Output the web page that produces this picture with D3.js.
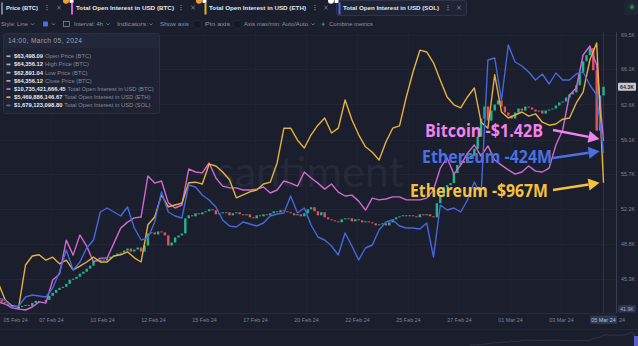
<!DOCTYPE html>
<html><head><meta charset="utf-8">
<script src="https://cdn.jsdelivr.net/npm/d3@7/dist/d3.min.js"></script>
<style>
html,body{margin:0;padding:0;background:#1b1e2c;overflow:hidden;}
svg{display:block;}
text{font-family:"Liberation Sans",Arial,sans-serif;}
</style></head><body>
<svg id="chart" width="638" height="346"></svg>
<script>
// ---------------- DATA ----------------
// BTC 4h closes (thousand USD), first candle Feb 5 02:00 UTC
const priceStart = "2024-02-05T02:00:00Z";
const priceOpen0 = 43.2;
const priceCloses = [
43.0,42.9,42.7,42.4,42.3,42.5,
42.6,42.7,42.6,42.9,43.1,43.0,
43.0,43.2,43.6,43.9,44.2,44.4,
44.5,44.8,45.2,45.3,45.5,45.8,
46.0,46.3,46.6,47.1,47.0,47.2,
47.1,47.3,47.5,47.6,47.8,47.9,
48.1,48.3,48.0,48.2,48.4,48.0,
48.6,49.8,49.9,49.7,50.0,49.9,
49.6,48.6,48.9,49.4,49.6,49.8,
51.3,51.6,51.5,51.8,51.7,51.9,
52.0,52.2,52.1,51.7,51.8,51.9,
51.9,51.6,51.8,51.9,51.7,51.6,
51.7,51.4,51.3,51.6,51.5,51.7,
51.6,51.8,52.0,51.9,52.1,52.0,
51.9,51.8,51.6,51.7,51.5,51.8,
52.2,52.4,52.0,51.6,51.9,51.4,
51.2,51.1,51.0,50.9,51.2,51.3,
51.3,51.0,51.2,51.1,50.9,51.0,
50.9,50.8,50.6,50.7,50.8,50.6,
50.9,51.2,51.4,51.5,51.6,51.5,
51.6,51.5,51.4,51.7,51.6,51.7,
51.5,51.4,52.8,53.5,54.4,54.6,
54.8,55.8,56.6,57.0,56.8,57.2,
57.5,58.2,59.4,61.2,62.4,61.0,
62.0,62.6,63.0,62.4,61.8,61.5,
61.2,61.8,62.2,62.0,62.4,62.3,
62.1,61.9,62.0,61.7,62.0,62.1,
62.2,62.5,62.8,62.9,63.3,63.6,
63.8,64.5,65.8,66.9,67.5,68.2,
66.0,60.0,63.5,64.36];

// Open interest, 8h points (billion USD), first point Feb 4 22:00 UTC
const oiStart = "2024-02-04T22:00:00Z";
const btcOI = [
5.37,5.30,5.17,5.13,5.10,5.20,5.37,5.33,6.10,6.30,
7.43,6.93,7.60,7.23,6.70,6.83,6.83,7.33,7.83,8.03,
8.17,8.20,9.57,9.33,9.40,8.67,8.50,8.60,9.80,9.70,
9.67,10.00,9.50,9.23,9.17,9.17,9.10,9.10,9.13,9.20,
9.00,9.10,9.40,9.33,9.23,9.70,9.50,9.33,9.13,9.30,
9.03,8.90,8.93,8.73,8.43,8.83,8.77,8.80,8.87,8.87,
8.77,8.77,8.77,8.83,9.10,9.83,10.17,9.63,9.93,10.33,
10.60,10.23,10.57,10.10,9.93,9.77,9.63,9.70,9.90,9.73,
9.70,9.83,10.60,11.10,12.27,12.50,13.60,13.90,13.27,10.735];
const ethOI = [
3.80,3.52,3.42,3.40,4.10,4.25,4.27,4.18,4.23,4.12,
4.18,4.02,4.08,4.15,4.23,4.15,4.15,4.25,4.27,4.32,
4.22,4.15,4.77,4.90,5.27,5.07,5.10,5.13,5.47,5.48,
5.45,5.78,5.75,5.65,5.52,5.22,5.27,5.32,5.35,5.45,
5.48,5.80,6.38,6.38,6.18,6.05,6.27,6.43,6.55,6.30,
6.38,6.85,6.52,6.27,6.07,5.98,5.85,6.15,6.38,6.42,
6.90,7.32,7.68,7.65,7.47,7.18,6.90,6.77,6.72,6.90,
7.05,6.48,6.38,7.27,6.65,6.55,6.60,6.65,6.58,6.62,
6.48,6.43,6.45,6.53,6.55,6.80,6.98,7.52,7.80,5.47];
const solOI = [
0.955,0.945,0.91,0.915,0.96,0.97,0.965,0.96,1.005,1.085,
1.195,1.095,1.135,1.205,1.245,1.385,1.405,1.385,1.365,1.41,
1.305,1.245,1.255,1.335,1.485,1.385,1.365,1.355,1.52,1.51,
1.47,1.445,1.41,1.345,1.315,1.31,1.335,1.325,1.315,1.33,
1.365,1.375,1.38,1.465,1.38,1.405,1.32,1.26,1.245,1.215,
1.17,1.28,1.215,1.145,1.205,1.22,1.295,1.335,1.345,1.315,
1.305,1.305,1.30,1.33,1.16,1.42,1.395,1.405,1.385,1.445,
1.535,1.47,2.145,2.155,1.945,2.22,2.135,2.115,2.085,2.045,
2.075,2.025,2.08,2.045,2.045,2.075,2.085,2.02,1.97,1.679];

const priceTicks = [41.9,45.3,48.8,52.2,55.7,59.1,62.6,66.1,69.5];
const priceTickLabels = ["41.9K","45.3K","48.8K","52.2K","55.7K","59.1K","62.6K","66.1K","69.5K"];
const lastPriceLabel = "64.3K";
const dateTickTimes = ["2024-02-05T00:00:00Z","2024-02-07T12:00:00Z","2024-02-10T00:00:00Z","2024-02-12T12:00:00Z",
  "2024-02-15T00:00:00Z","2024-02-17T12:00:00Z","2024-02-20T00:00:00Z","2024-02-22T12:00:00Z",
  "2024-02-25T00:00:00Z","2024-02-27T12:00:00Z","2024-03-01T00:00:00Z","2024-03-03T12:00:00Z"];
const dateTickLabels = ["05 Feb 24","07 Feb 24","10 Feb 24","12 Feb 24","15 Feb 24","17 Feb 24","20 Feb 24",
  "22 Feb 24","25 Feb 24","27 Feb 24","01 Mar 24","03 Mar 24"];
const crosshairLabel = "05 Mar 24";

const tooltipTitle = "14:00, March 05, 2024";
const tooltipValues = ["$63,498.09","$64,356.12","$62,891.04","$64,356.12","$10,735,421,666.45","$5,469,886,146.67","$1,679,123,098.80"];
const tooltipLabels = ["Open Price (BTC)","High Price (BTC)","Low Price (BTC)","Close Price (BTC)",
  "Total Open Interest in USD (BTC)","Total Open Interest in USD (ETH)","Total Open Interest in USD (SOL)"];

const tabLabels = ["Price (BTC)","Total Open Interest in USD (BTC)","Total Open Interest in USD (ETH)","Total Open Interest in USD (SOL)"];
const annotations = ["Bitcoin -$1.42B","Ethereum -424M","Ethereum -$967M"];

// ---------------- STYLE ----------------
const BG="#1b1e2c", PINK_L="#d06ad0", YEL_L="#e6b13c", BLUE_L="#4568dc";
const PINK_T="#f183ee", YEL_T="#f4c23f", BLUE_T="#4a70e4";
const GREEN="#22b58e", RED="#e4525b";
const AXT="#7d8397", UIT="#8d93a7";

const svg = d3.select("#chart");
svg.append("rect").attr("width",638).attr("height",346).attr("fill",BG);

const H4=4*3600e3, H8=8*3600e3;
const priceData = priceCloses.map((c,i)=>({t:new Date(Date.parse(priceStart)+i*H4), o:i===0?priceOpen0:priceCloses[i-1], c}));
const oiTimes = btcOI.map((_,i)=>new Date(Date.parse(oiStart)+i*H8));

const x = d3.scaleUtc().domain([new Date("2024-02-04T00:00:00Z"), new Date("2024-03-07T00:00:00Z")]).range([-20.4,632.4]);
const yPrice = d3.scaleLinear().domain([41.9,69.5]).range([313,35]);
const yBTC = d3.scaleLinear().domain([5,14.267]).range([313,35]);
const yETH = d3.scaleLinear().domain([3.3,7.933]).range([313,35]);
const ySOL = d3.scaleLinear().domain([0.88,2.27]).range([313,35]);

const defs = svg.append("defs");
defs.append("clipPath").attr("id","plot").append("rect").attr("x",0).attr("y",32).attr("width",616).attr("height",281);

// grid
const grid = svg.append("g");
grid.selectAll("line.h").data(priceTicks.slice(1)).join("line")
  .attr("x1",0).attr("x2",616).attr("y1",d=>Math.round(yPrice(d))+0.5).attr("y2",d=>Math.round(yPrice(d))+0.5)
  .attr("stroke","#212534");
grid.selectAll("line.v").data(dateTickTimes.slice(1)).join("line")
  .attr("y1",32).attr("y2",313).attr("x1",d=>Math.round(x(new Date(d)))+0.5).attr("x2",d=>Math.round(x(new Date(d)))+0.5)
  .attr("stroke","#1f2231");

// watermark (font size fitted to a 188px width)
const wm = svg.append("text").attr("x",216).attr("y",187).attr("font-size",50).attr("fill","#252939")
  .style("font-family","Lato, 'Open Sans', sans-serif").text("santiment");
const wmW = wm.node().getComputedTextLength();
wm.attr("font-size", 50*188/wmW);

const plot = svg.append("g").attr("clip-path","url(#plot)");

// crosshair
const lastT = priceData[priceData.length-1].t;
plot.append("line").attr("x1",x(lastT)).attr("x2",x(lastT)).attr("y1",32).attr("y2",313).attr("stroke","#2f3345").attr("stroke-width",1);

// candles
plot.selectAll("rect.candle").data(priceData).join("rect").attr("class","candle")
  .attr("x",d=>x(d.t)-1.2).attr("width",2.4)
  .attr("y",d=>yPrice(Math.max(d.o,d.c)))
  .attr("height",d=>Math.max(0.9,Math.abs(yPrice(d.o)-yPrice(d.c))))
  .attr("fill",d=>d.c>=d.o?GREEN:RED);

const mkLine = (ys)=>d3.line().x((d,i)=>x(oiTimes[i])).y(d=>ys(d));
plot.append("path").attr("d",mkLine(yBTC)(btcOI)).attr("fill","none").attr("stroke",PINK_L).attr("stroke-width",1.4).attr("stroke-linejoin","round");
plot.append("path").attr("d",mkLine(yETH)(ethOI)).attr("fill","none").attr("stroke",YEL_L).attr("stroke-width",1.4).attr("stroke-linejoin","round");
plot.append("path").attr("d",mkLine(ySOL)(solOI)).attr("fill","none").attr("stroke",BLUE_L).attr("stroke-width",1.4).attr("stroke-linejoin","round");

// axes
svg.append("line").attr("x1",616.5).attr("x2",616.5).attr("y1",32).attr("y2",313).attr("stroke","#3a3f52");
svg.append("line").attr("x1",0).attr("x2",616).attr("y1",313.5).attr("y2",313.5).attr("stroke","#282c3d");
svg.append("line").attr("x1",0).attr("x2",638).attr("y1",329.5).attr("y2",329.5).attr("stroke","#23273a");

const yAxis = svg.append("g").attr("transform","translate(616,0)")
  .call(d3.axisRight(yPrice).tickValues(priceTicks.slice(1)).tickSize(0).tickPadding(5)
    .tickFormat(d=>priceTickLabels[priceTicks.indexOf(d)]));
yAxis.select(".domain").remove();
yAxis.selectAll("text").attr("fill",AXT).attr("font-size",5.4).style("font-family","Liberation Sans, Arial, sans-serif");

// min label box
const yMinG = svg.append("g");
yMinG.append("rect").attr("x",618).attr("y",yPrice(priceTicks[0])-8).attr("width",18).attr("height",7.5).attr("fill","#2c3550").attr("rx",1);
yMinG.append("text").attr("x",627).attr("y",yPrice(priceTicks[0])-2.3).attr("text-anchor","middle").attr("font-size",5.2).attr("fill","#aab1c6").text(priceTickLabels[0]);

// last price box
const lastClose = priceCloses[priceCloses.length-1];
svg.append("rect").attr("x",618).attr("y",yPrice(lastClose)-4).attr("width",18).attr("height",8).attr("fill","#c5c8d2").attr("rx",1);
svg.append("text").attr("x",627).attr("y",yPrice(lastClose)+1.9).attr("text-anchor","middle").attr("font-size",5.2).attr("fill","#1b1e2c").attr("font-weight","bold").text(lastPriceLabel);

const xAxis = svg.append("g").attr("transform","translate(0,313)")
  .call(d3.axisBottom(x).tickValues(dateTickTimes.map(d=>new Date(d))).tickSize(0).tickPadding(5)
    .tickFormat((d,i)=>dateTickLabels[i]));
xAxis.select(".domain").remove();
xAxis.selectAll("text").attr("fill",AXT).attr("font-size",5.4).style("font-family","Liberation Sans, Arial, sans-serif");
xAxis.selectAll("text").filter((d,i)=>i===0).attr("text-anchor","start").attr("x",3);

// crosshair date box
svg.append("text").attr("x",619).attr("y",322).attr("font-size",5.4).attr("fill",AXT).text("24");
svg.append("rect").attr("x",x(lastT)-13.5).attr("y",315.5).attr("width",27).attr("height",8.5).attr("fill","#2d3753").attr("rx",1);
svg.append("text").attr("x",x(lastT)).attr("y",321.8).attr("text-anchor","middle").attr("font-size",5.4).attr("fill","#b9c0d4").text(crosshairLabel);

// navigator
const xn = d3.scaleUtc().domain(d3.extent(priceData,d=>d.t)).range([470,636]);
const yn = d3.scaleLinear().domain(d3.extent(priceCloses)).range([345,332]);
svg.append("path").attr("d",d3.line().x(d=>xn(d.t)).y(d=>yn(d.c))(priceData)).attr("fill","none").attr("stroke","#363b50").attr("stroke-width",0.8);
svg.append("rect").attr("x",634).attr("y",336).attr("width",4).attr("height",10).attr("fill","#5a5fc4");

// annotations with arrows
function arrow(x1,y1,x2,y2,color){
  const a=Math.atan2(y2-y1,x2-x1), L=11, w=6;
  const bx=x2-L*Math.cos(a), by=y2-L*Math.sin(a);
  svg.append("line").attr("x1",x1).attr("y1",y1).attr("x2",bx).attr("y2",by).attr("stroke",color).attr("stroke-width",2.4);
  svg.append("path").attr("d",`M${x2},${y2}L${bx-w*Math.sin(a)},${by+w*Math.cos(a)}L${bx+w*Math.sin(a)},${by-w*Math.cos(a)}Z`).attr("fill",color);
}
const tipX = x(oiTimes[oiTimes.length-1])-4;
const ann = [
  {t:annotations[0], c:PINK_T, tx:425, ty:137, len:118, sx:553, sy:130, ey:yBTC(btcOI[btcOI.length-1])-2},
  {t:annotations[1], c:BLUE_T, tx:422, ty:163, len:130, sx:553, sy:158, ey:ySOL(solOI[solOI.length-1])-2},
  {t:annotations[2], c:YEL_T, tx:410, ty:197, len:138, sx:553, sy:190, ey:yETH(ethOI[ethOI.length-1])}
];
ann.forEach(a=>{
  svg.append("text").attr("x",a.tx).attr("y",a.ty).attr("font-size",17).attr("font-weight",700).attr("fill",a.c)
    .attr("textLength",a.len).attr("lengthAdjust","spacingAndGlyphs").style("font-family","'Open Sans', 'Liberation Sans', sans-serif").text(a.t);
  arrow(a.sx,a.sy,tipX,a.ey,a.c);
});

// tooltip
const tt = svg.append("g");
tt.append("rect").attr("x",3.5).attr("y",33.5).attr("width",156).attr("height",80).attr("fill","#1e2232").attr("stroke","#2a2f42").attr("rx",2);
tt.append("rect").attr("x",4).attr("y",34).attr("width",155).attr("height",14).attr("fill","#23273a");
tt.append("text").attr("x",8).attr("y",43.3).attr("font-size",6.6).attr("fill","#9aa0b4").attr("textLength",74).text(tooltipTitle);
const ttColors = ["#a9aec0","#a9aec0","#a9aec0","#a9aec0",PINK_L,YEL_L,BLUE_L];
tooltipValues.forEach((v,i)=>{
  const cy = 56.2 + i*8.2;
  tt.append("rect").attr("x",6.5).attr("y",cy-0.8).attr("width",4).attr("height",1.7).attr("fill",ttColors[i]);
  const vt = tt.append("text").attr("x",14).attr("y",cy+2).attr("font-size",5.8).attr("font-weight","bold").attr("fill","#e6e8ef").text(v);
  const w = vt.node().getComputedTextLength();
  tt.append("text").attr("x",14+w+2).attr("y",cy+2).attr("font-size",5.8).attr("fill","#858ba0").text(tooltipLabels[i]);
});

// top tabs
const topG = svg.append("g");
function dots(cx){ [5.3,7.5,9.7].forEach(cy=>topG.append("circle").attr("cx",cx).attr("cy",cy).attr("r",0.6).attr("fill",UIT)); }
function cross(cx){ topG.append("path").attr("d",`M${cx-1.6},${6}L${cx+1.6},${9.2}M${cx+1.6},${6}L${cx-1.6},${9.2}`).attr("stroke",UIT).attr("stroke-width",0.8); }
function chev(cx,cy){ topG.append("path").attr("d",`M${cx-1.5},${cy-0.8}L${cx},${cy+0.8}L${cx+1.5},${cy-0.8}`).attr("fill","none").attr("stroke",UIT).attr("stroke-width",0.7); }
topG.append("rect").attr("x",336.5).attr("y",0.5).attr("width",130).attr("height",15).attr("rx",2).attr("fill","#1f2334").attr("stroke","#2e3447");
topG.append("rect").attr("x",624).attr("y",0).attr("width",14).attr("height",15).attr("fill","#202434").attr("rx",2);
topG.append("circle").attr("cx",632).attr("cy",7).attr("r",3.6).attr("fill","#1f3b30");
topG.append("circle").attr("cx",632).attr("cy",7).attr("r",1.8).attr("fill","#2f8b58");
const tabs = [
  {bar:"#777d91", bx:1, tx:6, tl:32, d:47, c:59, icon:null},
  {bar:"#d65fd6", bx:71, tx:76, tl:98, d:181, c:193, icon:{c:"#f0a030", cx:66}},
  {bar:"#e5b030", bx:204.5, tx:209, tl:97, d:315, c:326, icon:{c:"#f0a030", cx:199}},
  {bar:"#4a6ee0", bx:338.5, tx:343, tl:96, d:448, c:459, icon:{c:"#ffffff", cx:331}}
];
tabs.forEach((t,i)=>{
  if(t.icon){
    topG.append("circle").attr("cx",t.icon.cx).attr("cy",0.8).attr("r",3).attr("fill",t.icon.c);
    topG.append("rect").attr("x",t.icon.cx+3.5).attr("y",-1).attr("width",4).attr("height",4).attr("fill","#ffffff").attr("rx",0.8);
  }
  topG.append("rect").attr("x",t.bx).attr("y",2.5).attr("width",2).attr("height",12).attr("fill",t.bar);
  topG.append("text").attr("x",t.tx).attr("y",10).attr("font-size",6).attr("font-weight","bold").attr("fill","#e3e5ec")
    .attr("textLength",t.tl).attr("lengthAdjust","spacingAndGlyphs").text(tabLabels[i]);
  dots(t.d); cross(t.c);
});
// toolbar row
function tt2(txt,xx,len){ topG.append("text").attr("x",xx).attr("y",26).attr("font-size",5.8).attr("fill",UIT).attr("textLength",len).attr("lengthAdjust","spacingAndGlyphs").text(txt); }
tt2("Style: Line",1,27); chev(32.5,24.2);
topG.append("rect").attr("x",43).attr("y",21.5).attr("width",5).attr("height",5).attr("rx",0.8).attr("fill","#4a6ee0"); chev(53.5,24.2);
topG.append("rect").attr("x",63.5).attr("y",21.5).attr("width",6).attr("height",5).attr("fill","none").attr("stroke",UIT).attr("stroke-width",0.7);
tt2("Interval: 4h",74,29); chev(108,24.2);
tt2("Indicators:",117,31); chev(151,24.2);
tt2("Show axis",160,29);
topG.append("rect").attr("x",193.5).attr("y",20.5).attr("width",8).attr("height",7.5).attr("rx",1).attr("fill","#151826").attr("stroke","#2c3145").attr("stroke-width",0.6);
tt2("Pin axis",205,25);
topG.append("rect").attr("x",233.5).attr("y",20.5).attr("width",8).attr("height",7.5).attr("rx",1).attr("fill","#151826").attr("stroke","#2c3145").attr("stroke-width",0.6);
tt2("Axis max/min: Auto/Auto",244,64); chev(313,24.2);
topG.append("path").attr("d","M321.5,24.2h3.4M323.2,22.5v3.4").attr("stroke",UIT).attr("stroke-width",0.7);
tt2("Combine metrics",329,44);
</script></body></html>
